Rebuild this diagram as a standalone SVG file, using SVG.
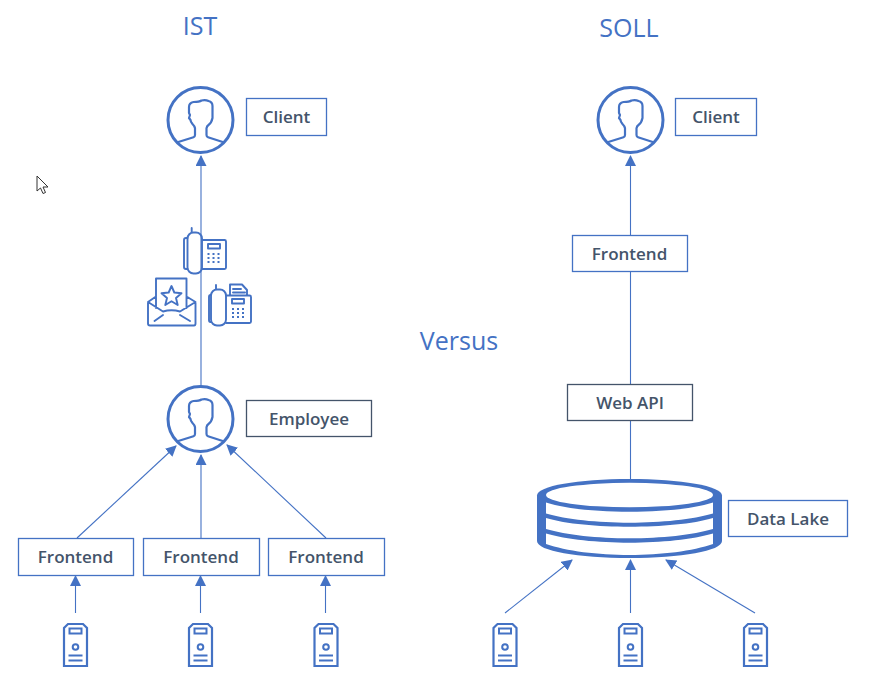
<svg xmlns="http://www.w3.org/2000/svg" width="871" height="689" viewBox="0 0 871 689">
<style>
text{font-family:"Open Sans","Noto Sans","Liberation Sans",sans-serif}
.t{fill:#4472c4;font-size:25px;text-anchor:middle}
.l{fill:#44546a;font-size:17px;font-weight:600;text-anchor:middle}
.b{fill:#fff;stroke:#4472c4;stroke-width:1.3}
.d{fill:#fff;stroke:#44546a;stroke-width:1.3}
.c{fill:none;stroke:#4472c4;stroke-width:1.1}
.i{fill:none;stroke:#4472c4;stroke-width:1.900;stroke-linejoin:round;stroke-linecap:round}
.f{fill:#4472c4;stroke:none}
</style>
<defs>
<marker id="a" markerUnits="userSpaceOnUse" markerWidth="12" markerHeight="12" refX="10" refY="5.500" orient="auto"><path d="M0,0 L11,5.500 L0,11 Z" fill="#4472c4"/></marker>
<symbol id="person" overflow="visible"><circle r="32.500" fill="#fff" stroke="#4472c4" stroke-width="3"/>
<path d="M-23,22.300 L-7,17.200 Q-5.500,16.700 -5.500,15 L-5.500,8.300 Q-6,6 -8,4 Q-10,1.500 -10,0 L-11.500,-2 L-10.500,-5 L-11.500,-7 L-11.500,-13 Q-11.500,-17 -7,-18 Q-1,-18 1,-19.500 Q5,-20.500 8,-19 Q12,-18 12,-14 L12,-2 Q11,3 8,5 Q6.500,6 6,8.300 L6,15 Q6,16.700 7.500,17.200 L23,22.300" fill="none" stroke="#4472c4" stroke-width="2.200" stroke-linejoin="round"/></symbol>
<symbol id="server" overflow="visible"><path d="M-11.500,21 L-11.500,-17 L-7.500,-21 L7.500,-21 L11.500,-17 L11.500,21 Z" fill="#fff" stroke="#4472c4" stroke-width="2.200"/>
<rect x="-6" y="-16.500" width="12" height="5" fill="none" stroke="#4472c4" stroke-width="2"/><circle cy="2" r="2.800" fill="none" stroke="#4472c4" stroke-width="2"/><path d="M-7,10.500 H7 M-7,15.500 H7" stroke="#4472c4" stroke-width="1.800"/></symbol>
<symbol id="keys" overflow="visible"><path d="M0,0h2M5,0h2M10,0h2M0,4h2M5,4h2M10,4h2M0,8h2M5,8h2M10,8h2" stroke="#4472c4" stroke-width="1.800"/></symbol>
</defs>
<rect width="871" height="689" fill="#fff"/>
<g id="connectors">
<line class="c" x1="201" y1="386" x2="201" y2="156" marker-end="url(#a)"/>
<line class="c" x1="77" y1="538" x2="176" y2="446" marker-end="url(#a)"/>
<line class="c" x1="201" y1="538" x2="201" y2="455" marker-end="url(#a)"/>
<line class="c" x1="326" y1="538" x2="227" y2="445" marker-end="url(#a)"/>
<line class="c" x1="75.500" y1="613" x2="75.500" y2="576" marker-end="url(#a)"/>
<line class="c" x1="200.500" y1="613" x2="200.500" y2="576" marker-end="url(#a)"/>
<line class="c" x1="325.500" y1="613" x2="325.500" y2="576" marker-end="url(#a)"/>
<line class="c" x1="630.500" y1="236" x2="630.500" y2="156" marker-end="url(#a)"/>
<line class="c" x1="630.500" y1="384" x2="630.500" y2="272"/>
<line class="c" x1="630.500" y1="480" x2="630.500" y2="421"/>
<line class="c" x1="505" y1="613" x2="572" y2="560" marker-end="url(#a)"/>
<line class="c" x1="630.500" y1="613" x2="630.500" y2="560" marker-end="url(#a)"/>
<line class="c" x1="755" y1="613" x2="666" y2="560" marker-end="url(#a)"/>
</g>
<text class="t" x="200" y="35">IST</text>
<text class="t" x="629" y="37">SOLL</text>
<text class="t" x="459" y="350">Versus</text>
<g id="cursor"><path d="M37,176 L37,191 L40.500,188 L43,193.500 L45.500,192.500 L43,187 L48,187 Z" fill="#fff" stroke="#333" stroke-width="1"/></g>
<g id="client-ist"><use href="#person" x="200.500" y="120"/><rect class="b" x="246.500" y="98.500" width="80" height="37"/><text class="l" x="286.500" y="122.500">Client</text></g>
<g id="client-soll"><use href="#person" x="630.500" y="120"/><rect class="b" x="675.500" y="98.500" width="81" height="37"/><text class="l" x="716" y="122.500">Client</text></g>
<g id="employee"><use href="#person" x="200.500" y="419"/><rect class="d" x="246.500" y="400.500" width="125" height="36"/><text class="l" x="309" y="424.500">Employee</text></g>
<g id="phone-1"><path class="i" d="M191.700,228V232M202,240H224.500Q226,240 226,241.500V267.500Q226,269 224.500,269H202M187.500,238H186Q184,238 184,240V267Q184,269 186,269H187.500"/><rect class="i" x="187.500" y="232.500" width="14.500" height="41" rx="6"/><rect class="i" x="208" y="244" width="12" height="4.500"/><use href="#keys" x="207.500" y="254"/></g>
<g id="phone-2"><path class="i" d="M216,285V289M230,295V284.500H242L247,290V295.500M233,289H241M233,292.500H245M226,295.500H249.500Q251,295.500 251,297V321.500Q251,323 249.500,323H226M211,295H210.500Q209,295 209,297V320Q209,322 210.500,322H211"/><rect class="i" x="211" y="289.500" width="15" height="36" rx="6"/><rect class="i" x="232" y="299" width="12" height="4.500"/><use href="#keys" x="232" y="309"/></g>
<g id="mail"><path class="i" d="M156,308V278.500H186.500V308M156,296.500L148,302V323.500Q148,325.500 150,325.500H194Q195.500,325.500 195.500,323.500V302L186.500,296.500M148,302L163,311.500Q171.500,309 180,311.500L195.500,302M154.500,321L163,315M180,315L190,321"/><path class="i" d="M171.500,286L174.300,292.500L181.500,293.200L176,298L177.700,305L171.500,301.300L165.300,305L167,298L161.500,293.200L168.700,292.500Z"/></g>
<g id="frontend-1"><rect class="b" x="18.500" y="538.500" width="115" height="37"/><text class="l" x="75.500" y="562.500">Frontend</text></g>
<g id="frontend-2"><rect class="b" x="143.500" y="538.500" width="116" height="37"/><text class="l" x="201" y="562.500">Frontend</text></g>
<g id="frontend-3"><rect class="b" x="268.500" y="538.500" width="116" height="37"/><text class="l" x="326" y="562.500">Frontend</text></g>
<g id="server-1"><use href="#server" x="75.500" y="645"/></g>
<g id="server-2"><use href="#server" x="200.500" y="645"/></g>
<g id="server-3"><use href="#server" x="326" y="645"/></g>
<g id="frontend-soll"><rect class="b" x="572.500" y="235.500" width="115" height="36"/><text class="l" x="629.500" y="259.500">Frontend</text></g>
<g id="web-api"><rect class="d" x="567.500" y="384.500" width="125" height="36"/><text class="l" x="630" y="408.500">Web API</text></g>
<g id="data-lake"><path class="f" d="M537,495.500C537,486 578,479 629.500,479C681,479 722,486 722,495.500V541C722,551 681,558 629.500,558C578,558 537,551 537,541Z"/>
<ellipse cx="629.500" cy="495" rx="83.500" ry="12.300" fill="#fff"/>
<path d="M546,502.500C566,509 598,511.700 629.500,511.700C661,511.700 693,509 713,502.500V513.500C693,519.500 661,522.700 629.500,522.700C598,522.700 566,519.500 546,513.500Z M546,518C566,524 598,526.700 629.500,526.700C661,526.700 693,524 713,518V529C693,535 661,538.300 629.500,538.300C598,538.300 566,535 546,529Z M546,533.500C566,539.500 598,542.700 629.500,542.700C661,542.700 693,539.500 713,533.500V544C693,551 661,555 629.500,555C598,555 566,551 546,544Z" fill="#fff"/>
<rect class="b" x="728.500" y="500.500" width="119" height="36"/><text class="l" x="788" y="524.500">Data Lake</text></g>
<g id="server-4"><use href="#server" x="505" y="645"/></g>
<g id="server-5"><use href="#server" x="630.500" y="645"/></g>
<g id="server-6"><use href="#server" x="755.500" y="645"/></g>
</svg>
